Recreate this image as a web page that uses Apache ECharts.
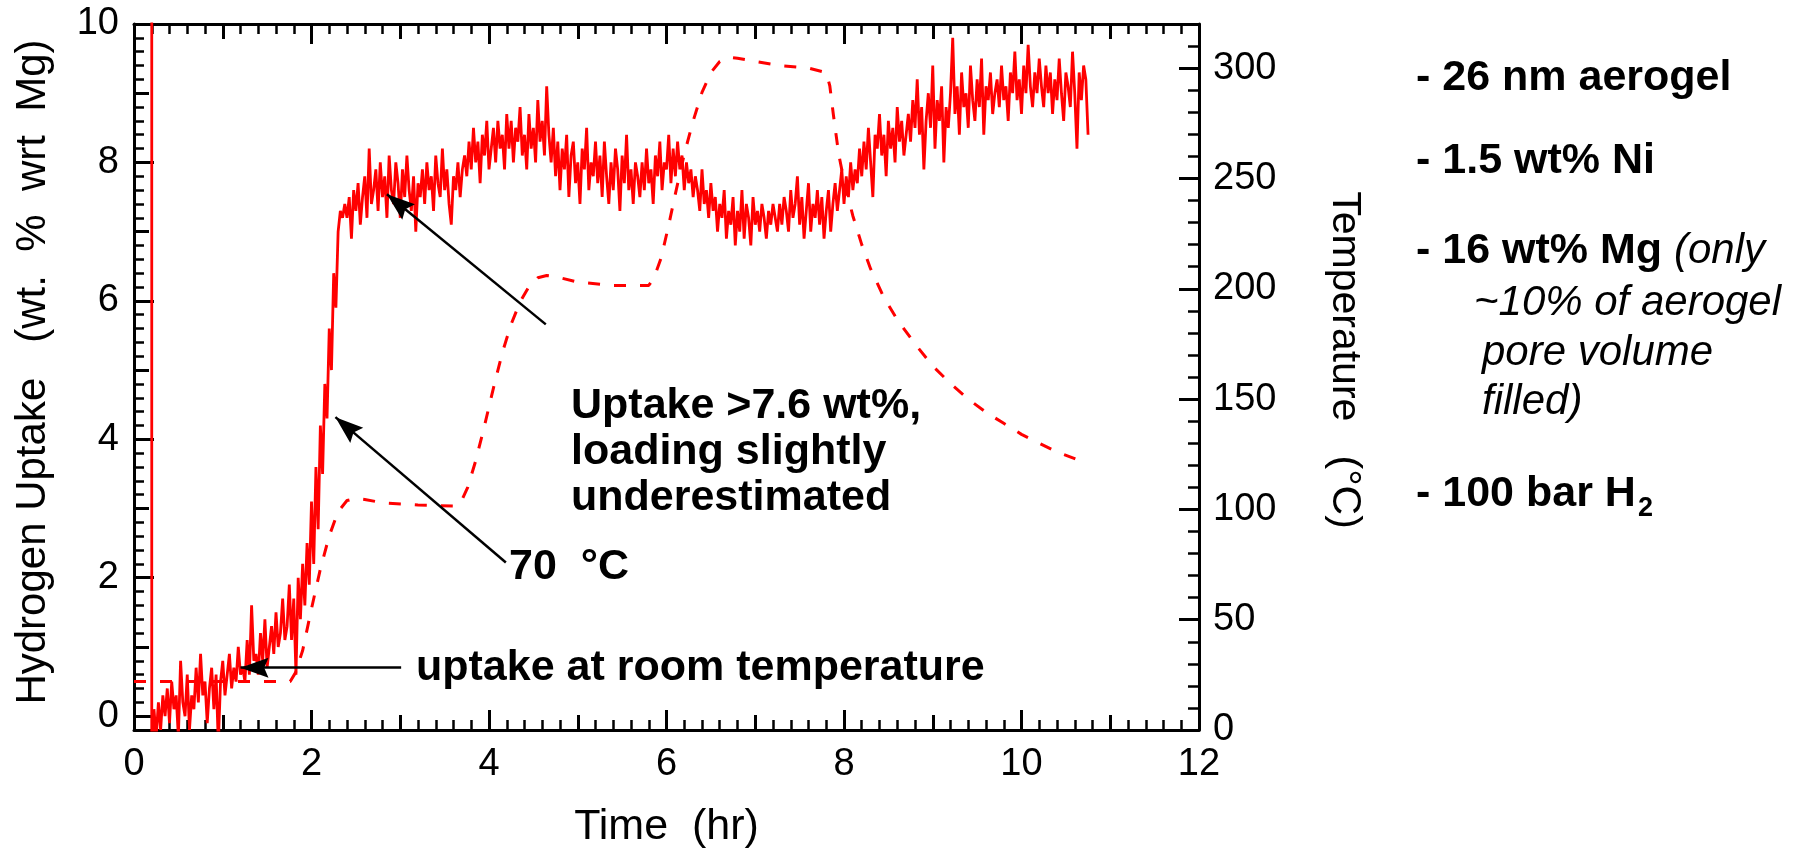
<!DOCTYPE html>
<html><head><meta charset="utf-8">
<script src="https://cdn.jsdelivr.net/npm/echarts@6/dist/echarts.min.js"></script>
<style>html,body{margin:0;padding:0;background:#fff}#c{width:1802px;height:848px}</style>
</head><body><div id="c"></div>
<script>
// ---------- DATA ----------
const xTickLabels = [0, 2, 4, 6, 8, 10, 12];
const leftTickLabels = [0, 2, 4, 6, 8, 10];
const leftMidTicks = [0, 1, 2, 3, 4, 5, 6, 7, 8, 9, 10];
const rightTickLabels = [0, 50, 100, 150, 200, 250, 300];

// initial spike of the uptake trace (hr, wt%)
const spikeHr = [0.2, 0.2];
const spikeWt = [12, -0.6];

// hydrogen uptake, sampled every 0.025 hr starting at 0.225 hr (wt. % wrt Mg)
const uptakeStartHr = 0.225;
const uptakeStepHr = 0.025;
const uptakeWt = [
  0.1, -0.3, 0.2, -0.2, 0.3, 0.0, 0.4, -0.1, 0.5, 0.1, 0.3, -0.3, 0.8, 0.2, 0.0, 0.6, -0.2, 0.3, 0.1, 0.7,
  0.2, 0.9, 0.3, 0.5, -0.1, 0.4, 0.7, 0.1, 0.6, -0.4, 0.5, 0.8, 0.3, 0.6, 0.9, 0.4, 0.7, 0.5, 1.0, 0.6,
  0.7, 0.5, 1.1, 0.6, 1.6, 0.8, 0.9, 0.6, 1.2, 0.8, 1.4, 0.7, 1.0, 1.3, 0.9, 1.5, 1.0, 1.2, 1.7, 1.1,
  1.3, 1.9, 1.1, 1.7, 0.6, 2.0, 1.4, 2.2, 1.6, 2.5, 1.9, 3.1, 2.2, 3.6, 2.7, 4.2, 3.5, 4.8, 4.3, 5.6,
  5.0, 6.4, 5.9, 7.0, 7.3, 7.2, 7.4, 7.2, 7.5, 6.9, 7.6, 7.3, 7.7, 7.1, 7.5, 7.8, 7.2, 8.2, 7.4, 7.6,
  7.9, 7.3, 8.0, 7.5, 7.8, 7.2, 8.1, 7.6, 7.4, 8.0, 7.7, 7.2, 7.9, 7.5, 8.1, 7.6, 7.3, 7.8, 7.0, 7.7,
  7.5, 7.9, 7.4, 8.0, 7.6, 7.8, 7.3, 8.1, 7.7, 7.5, 8.2, 7.6, 7.9, 7.4, 7.1, 7.8, 7.6, 8.0, 7.5, 7.9,
  8.1, 7.8, 8.3, 7.9, 8.5, 8.0, 8.3, 7.7, 8.4, 8.1, 8.6, 7.9, 8.2, 8.5, 8.0, 8.6, 8.2, 8.4, 7.9, 8.7,
  8.2, 8.6, 8.0, 8.5, 8.3, 8.8, 8.1, 8.4, 7.9, 8.7, 8.2, 8.5, 8.0, 8.9, 8.3, 8.6, 8.1, 9.1, 8.4, 8.0,
  8.5, 7.8, 8.3, 7.6, 8.2, 7.9, 8.4, 7.5, 8.1, 8.3, 7.7, 8.0, 7.4, 8.2, 7.9, 8.5, 7.6, 8.0, 7.8, 8.3,
  7.7, 8.1, 7.5, 8.3, 7.8, 7.4, 8.0, 7.6, 8.2, 7.9, 7.3, 8.1, 7.7, 8.4, 7.6, 7.9, 7.4, 8.0, 7.8, 7.5,
  8.0, 7.6, 8.2, 7.7, 7.9, 7.4, 8.1, 7.8, 8.3, 7.6, 8.0, 7.9, 8.4, 7.7, 8.2, 7.8, 8.3, 7.9, 8.1, 7.6,
  8.0, 7.7, 7.9, 7.5, 7.8, 7.6, 7.3, 7.9, 7.4, 7.6, 7.2, 7.7, 7.3, 7.5, 7.0, 7.4, 7.2, 7.6, 6.9, 7.3,
  7.1, 7.5, 6.8, 7.3, 7.0, 7.6, 6.9, 7.4, 7.2, 6.8, 7.5, 7.1, 7.3, 7.0, 7.4, 7.2, 6.9, 7.3, 7.1, 7.4,
  7.2, 7.0, 7.4, 7.1, 7.5, 7.3, 7.0, 7.6, 7.2, 7.4, 7.8, 7.1, 7.5, 6.9, 7.3, 7.7, 7.0, 7.4, 7.2, 7.6,
  7.1, 7.5, 6.9, 7.3, 7.6, 7.0, 7.4, 7.7, 7.3, 7.6, 7.9, 7.4, 7.8, 7.5, 8.0, 7.6, 7.9, 7.7, 8.2, 7.8,
  8.3, 7.9, 8.5, 8.0, 7.5, 8.4, 8.2, 8.7, 8.1, 8.4, 7.8, 8.6, 8.2, 8.5, 8.0, 8.8, 8.3, 8.6, 8.1, 8.4,
  8.7, 8.3, 8.9, 8.5, 9.2, 8.4, 8.8, 7.9, 8.6, 9.0, 8.5, 9.4, 8.2, 8.9, 8.6, 9.1, 8.0, 8.8, 8.5, 9.0,
  9.8, 8.7, 9.1, 8.4, 9.3, 8.8, 9.0, 8.5, 9.4, 8.9, 8.6, 9.2, 8.8, 9.5, 8.4, 9.1, 8.9, 9.3, 8.7, 9.0,
  9.2, 8.8, 9.4, 8.9, 9.1, 8.6, 9.3, 9.0, 9.6, 8.9, 9.2, 8.7, 9.4, 9.0, 9.7, 9.1, 8.8, 9.3, 9.0, 9.5,
  9.1, 8.8, 9.4, 9.0, 9.3, 8.7, 9.2, 8.9, 9.5, 9.0, 8.6, 9.3, 9.1, 8.8, 9.6, 9.0, 8.2, 9.3, 8.9, 9.4,
  9.2, 8.4
];

// temperature (hr, degC)
const tempHr = [0, 1.76, 1.82, 1.9, 2.0, 2.1, 2.2, 2.3, 2.4, 2.5, 2.6, 2.8, 3.2, 3.6, 3.68, 3.76, 3.85, 3.95, 4.05, 4.15, 4.25, 4.35, 4.45, 4.55, 4.65, 4.75, 5.0, 5.4, 5.8, 5.86, 5.94, 6.02, 6.1, 6.2, 6.3, 6.4, 6.5, 6.6, 6.7, 6.8, 7.0, 7.3, 7.6, 7.8, 7.84, 7.88, 7.94, 8.0, 8.1, 8.2, 8.3, 8.45, 8.6, 8.8, 9.0, 9.2, 9.4, 9.6, 9.8, 10.0, 10.2, 10.4, 10.6, 10.72];
const tempC = [22, 22, 26, 36, 55, 73, 88, 99, 104, 105, 104.5, 103, 102, 101.5, 103, 110, 122, 138, 155, 171, 184, 194, 201, 205, 206, 205.5, 203, 201.5, 201.5, 205, 214, 228, 243, 261, 276, 289, 298, 303, 305, 304.5, 303, 301, 300, 298, 292, 279, 261, 249, 233, 220, 209, 196, 186, 175, 165, 157, 150, 144, 139, 134, 130, 126, 123, 121];

// annotation arrows (data units: hr, wt%)
const arrowFromHr = [4.64, 4.19, 3.01];
const arrowFromWt = [5.66, 2.22, 0.70];
const arrowToHr = [2.85, 2.27, 1.20];
const arrowToWt = [7.54, 4.32, 0.70];

// ---------- CHART ----------
const FONT = '"Liberation Sans", Arial, Helvetica, sans-serif';
const BLACK = '#000';
const RED = '#ff0000';
const TICK_FONT = 38;
const ARROW_HEAD = 'path://M10,0 L20,26 L10,22 L0,26 Z';

const uptakeData = spikeHr.map((t, i) => [t, spikeWt[i]])
  .concat(uptakeWt.map((v, i) => [+(uptakeStartHr + i * uptakeStepHr).toFixed(3), v]));
const tempData = tempHr.map((t, i) => [t, tempC[i]]);
const arrowData = arrowFromHr.map((_, i) => [
  { coord: [arrowFromHr[i], arrowFromWt[i]], symbol: 'none' },
  { coord: [arrowToHr[i], arrowToWt[i]], symbol: ARROW_HEAD, symbolSize: [20, 28], symbolOffset: [0, 14] }
]);

const lineStyle = { color: BLACK, width: 3 };
const tickStyle = { color: BLACK, width: 3 };
const noLabel = { show: false };

function xAx(pos, interval, len, withMinor, main) {
  return {
    type: 'value', position: pos, min: 0, max: 12, interval: interval,
    axisLine: { show: !!main, onZero: false, lineStyle: lineStyle },
    axisTick: { show: true, inside: true, length: len, lineStyle: tickStyle },
    minorTick: { show: withMinor, splitNumber: 10, length: 10, lineStyle: { color: BLACK, width: 2.5 } },
    axisLabel: main === 'label' ? { show: true, color: BLACK, fontSize: TICK_FONT, fontFamily: FONT, margin: 16 } : noLabel,
    splitLine: { show: false }, minorSplitLine: { show: false },
    name: main === 'label' ? 'Time  (hr)' : '',
    nameLocation: 'middle', nameGap: 76,
    nameTextStyle: { color: BLACK, fontSize: 43, fontFamily: FONT }
  };
}

const option = {
  animation: false,
  backgroundColor: '#fff',
  grid: { left: 134, right: 603, top: 24, bottom: 118, containLabel: false, outerBoundsMode: 'none' },
  xAxis: [
    xAx('bottom', 2, 20, true, 'label'),
    xAx('bottom', 1, 15, false, false),
    xAx('top', 2, 20, true, 'line'),
    xAx('top', 1, 15, false, false)
  ],
  yAxis: [
    { // 0: left main (data axis)
      type: 'value', position: 'left', min: -0.2, max: 10,
      axisLine: { show: true, onZero: false, lineStyle: lineStyle },
      axisTick: { show: true, inside: true, length: 20, lineStyle: tickStyle, customValues: leftTickLabels },
      axisLabel: { show: true, color: BLACK, fontSize: TICK_FONT, fontFamily: FONT, margin: 15, customValues: leftTickLabels },
      splitLine: { show: false },
      name: 'Hydrogen Uptake   (wt.  %  wrt  Mg)', nameLocation: 'middle', nameGap: 80,
      nameTextStyle: { color: BLACK, fontSize: 42, fontFamily: FONT, padding: [0, 0, 0, 10] }
    },
    { // 1: left mid ticks
      type: 'value', position: 'left', min: -0.2, max: 10,
      axisLine: { show: false, onZero: false },
      axisTick: { show: true, inside: true, length: 15, lineStyle: tickStyle, customValues: leftMidTicks },
      axisLabel: noLabel, splitLine: { show: false }
    },
    { // 2: left minor ticks
      type: 'value', position: 'left', min: -0.2, max: 10, interval: 0.2,
      axisLine: { show: false, onZero: false },
      axisTick: { show: true, inside: true, length: 10, lineStyle: { color: BLACK, width: 2.5 } },
      axisLabel: noLabel, splitLine: { show: false }
    },
    { // 3: right main (temperature)
      type: 'value', position: 'right', min: 0, max: 320,
      axisLine: { show: true, onZero: false, lineStyle: lineStyle },
      axisTick: { show: true, inside: true, length: 20, lineStyle: tickStyle, customValues: rightTickLabels },
      axisLabel: { show: true, color: BLACK, fontSize: TICK_FONT, fontFamily: FONT, margin: 14, customValues: rightTickLabels },
      splitLine: { show: false },
      name: 'Temperature   (°C)', nameLocation: 'middle', nameGap: 125, nameRotate: -90,
      nameTextStyle: { color: BLACK, fontSize: 41, fontFamily: FONT, padding: [0, 34, 0, 0] }
    },
    { // 4: right minor ticks
      type: 'value', position: 'right', min: 0, max: 320, interval: 10,
      axisLine: { show: false, onZero: false },
      axisTick: { show: true, inside: true, length: 11, lineStyle: { color: BLACK, width: 2.5 } },
      axisLabel: noLabel, splitLine: { show: false }
    }
  ],
  series: [
    {
      name: 'uptake', type: 'line', xAxisIndex: 0, yAxisIndex: 0,
      data: uptakeData, showSymbol: false, symbol: 'none', clip: true,
      lineStyle: { color: RED, width: 2.8 }, itemStyle: { color: RED },
      emphasis: { disabled: true }, silent: true, z: 3,
      markLine: {
        silent: true, animation: false, symbol: ['none', ARROW_HEAD], symbolSize: [20, 28],
        label: { show: false },
        lineStyle: { color: BLACK, width: 2.5, type: 'solid' },
        itemStyle: { color: BLACK },
        emphasis: { disabled: true },
        data: arrowData
      }
    },
    {
      name: 'temperature', type: 'line', xAxisIndex: 0, yAxisIndex: 3,
      data: tempData, showSymbol: false, symbol: 'none', clip: true,
      lineStyle: { color: RED, width: 3, type: [12, 14] }, itemStyle: { color: RED },
      emphasis: { disabled: true }, silent: true, z: 2
    }
  ],
  graphic: [
    { type: 'text', x: 571, y: 406, style: { text: 'Uptake >7.6 wt%,', fontSize: 43, fontWeight: 'bold', fontFamily: FONT, fill: BLACK, textVerticalAlign: 'middle', verticalAlign: 'middle' } },
    { type: 'text', x: 571, y: 452, style: { text: 'loading slightly', fontSize: 43, fontWeight: 'bold', fontFamily: FONT, fill: BLACK, textVerticalAlign: 'middle', verticalAlign: 'middle' } },
    { type: 'text', x: 571, y: 498, style: { text: 'underestimated', fontSize: 43, fontWeight: 'bold', fontFamily: FONT, fill: BLACK, textVerticalAlign: 'middle', verticalAlign: 'middle' } },
    { type: 'text', x: 509, y: 567, style: { text: '70  °C', fontSize: 43, fontWeight: 'bold', fontFamily: FONT, fill: BLACK, textVerticalAlign: 'middle', verticalAlign: 'middle' } },
    { type: 'text', x: 416, y: 668, style: { text: 'uptake at room temperature', fontSize: 43, fontWeight: 'bold', fontFamily: FONT, fill: BLACK, textVerticalAlign: 'middle', verticalAlign: 'middle' } },
    { type: 'text', x: 1416, y: 78, style: { text: '- 26 nm aerogel', fontSize: 43, fontWeight: 'bold', fontFamily: FONT, fill: BLACK, textVerticalAlign: 'middle', verticalAlign: 'middle' } },
    { type: 'text', x: 1416, y: 161, style: { text: '- 1.5 wt% Ni', fontSize: 43, fontWeight: 'bold', fontFamily: FONT, fill: BLACK, textVerticalAlign: 'middle', verticalAlign: 'middle' } },
    { type: 'text', x: 1416, y: 251, style: { text: '{b|- 16 wt% Mg }{i|(only}', fontSize: 43, fontFamily: FONT, fill: BLACK, textVerticalAlign: 'middle', verticalAlign: 'middle',
        rich: { b: { fontSize: 43, fontWeight: 'bold', fontFamily: FONT, fill: BLACK }, i: { fontSize: 42, fontStyle: 'italic', fontFamily: FONT, fill: BLACK } } } },
    { type: 'text', x: 1474, y: 303, style: { text: '~10% of aerogel', fontSize: 42, fontStyle: 'italic', fontFamily: FONT, fill: BLACK, textVerticalAlign: 'middle', verticalAlign: 'middle' } },
    { type: 'text', x: 1482, y: 353, style: { text: 'pore volume', fontSize: 42, fontStyle: 'italic', fontFamily: FONT, fill: BLACK, textVerticalAlign: 'middle', verticalAlign: 'middle' } },
    { type: 'text', x: 1482, y: 402, style: { text: 'filled)', fontSize: 42, fontStyle: 'italic', fontFamily: FONT, fill: BLACK, textVerticalAlign: 'middle', verticalAlign: 'middle' } },
    { type: 'text', x: 1416, y: 494, style: { text: '- 100 bar H', fontSize: 43, fontWeight: 'bold', fontFamily: FONT, fill: BLACK, textVerticalAlign: 'middle', verticalAlign: 'middle' } },
    { type: 'text', x: 1638, y: 509, style: { text: '2', fontSize: 27, fontWeight: 'bold', fontFamily: FONT, fill: BLACK, textVerticalAlign: 'middle', verticalAlign: 'middle' } }
  ]
};

const chart = echarts.init(document.getElementById('c'), null, { renderer: 'canvas', width: 1802, height: 848 });
chart.setOption(option);
</script>
</body></html>
